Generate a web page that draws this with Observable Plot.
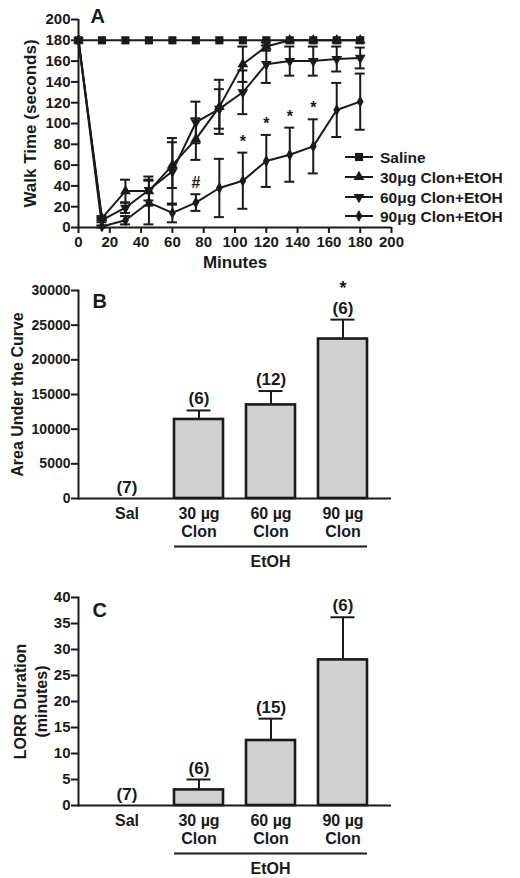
<!DOCTYPE html>
<html><head><meta charset="utf-8">
<script src="https://cdn.jsdelivr.net/npm/d3@7"></script>
<script src="https://cdn.jsdelivr.net/npm/@observablehq/plot@0.6"></script>
<style>
body{margin:0;background:#fff;}
#wrap{position:relative;width:520px;height:878px;overflow:hidden;}
.panel{position:absolute;left:0;width:520px;}
</style></head><body>
<div id="wrap">
<div class="panel" id="pa" style="top:0px"></div>
<div class="panel" id="pb" style="top:280px"></div>
<div class="panel" id="pc" style="top:580px"></div>
</div>
<script>
// ---------- DATA ----------
const times = [0, 15, 30, 45, 60, 75, 90, 105, 120, 135, 150, 165, 180];
const saline = [180, 180, 180, 180, 180, 180, 180, 180, 180, 180, 180, 180, 180];
const clon30 = [180, 9, 35, 35, 60, 85, 116, 157, 174, 180, 180, 180, 180];
const clon30Err = [0, 2, 11, 14, 22, 20, 26, 17, 4, 0, 0, 0, 0];
const clon60 = [180, 7, 19, 36, 54, 101, 114, 130, 157, 160, 160, 162, 163];
const clon60Err = [0, 2, 5, 10, 32, 20, 19, 21, 18, 14, 14, 12, 10];
const clon90 = [180, 1, 7, 24, 14, 24, 38, 45, 64, 70, 78, 113, 121];
const clon90Err = [0, 1, 4, 21, 9, 8, 28, 27, 25, 26, 26, 26, 27];
const sigMarks90 = ["", "", "", "", "", "#", "", "*", "*", "*", "*", "", ""];
const seriesNames = ["Saline", "30μg Clon+EtOH", "60μg Clon+EtOH", "90μg Clon+EtOH"];
const xTicksA = [0, 20, 40, 60, 80, 100, 120, 140, 160, 180, 200];
const yTicksA = [0, 20, 40, 60, 80, 100, 120, 140, 160, 180, 200];

const groups = ["Sal", "30 µg\nClon", "60 µg\nClon", "90 µg\nClon"];
const aucValues = [0, 11400, 13500, 23000];
const aucErr = [0, 1300, 2000, 2800];
const aucN = [7, 6, 12, 6];
const aucSig = ["", "", "", "*"];
const aucTicks = [0, 5000, 10000, 15000, 20000, 25000, 30000];

const lorrValues = [0, 3.0, 12.5, 28.0];
const lorrErr = [0, 2.0, 4.2, 8.2];
const lorrN = [7, 6, 15, 6];
const lorrTicks = [0, 5, 10, 15, 20, 25, 30, 35, 40];

// ---------- STYLE ----------
const FONT = '"Liberation Sans", Arial, Helvetica, sans-serif';
const INK = "#1a1a1a";
const baseStyle = {fontFamily: FONT, fontWeight: "bold", fontSize: "14px", color: INK, background: "transparent", overflow: "visible"};
const sqrt3 = Math.sqrt(3);
const symTriDown = {draw(ctx, size) {
  const y = -Math.sqrt(size / (sqrt3 * 3));
  ctx.moveTo(0, -y * 2); ctx.lineTo(-sqrt3 * y, y); ctx.lineTo(sqrt3 * y, y); ctx.closePath();
}};
const symbols = [d3.symbolSquare, d3.symbolTriangle, symTriDown, d3.symbolDiamond];
const symR = [4.6, 4.0, 4.0, 3.6];

// ---------- PANEL A ----------
const allVals = [saline, clon30, clon60, clon90];
const allErrs = [null, clon30Err, clon60Err, clon90Err];
const rowsA = [];
allVals.forEach((vals, si) => vals.forEach((v, i) => rowsA.push({series: seriesNames[si], si, t: times[i], v, e: allErrs[si] ? allErrs[si][i] : 0})));
const errRows = rowsA.filter(d => d.e > 0);
const sigRows = times.map((t, i) => ({t, y: clon90[i] + clon90Err[i], s: sigMarks90[i]})).filter(d => d.s);
const capHalf = 3.2;

const chartA = Plot.plot({
  width: 520, height: 280, marginLeft: 78, marginRight: 129, marginTop: 19, marginBottom: 53,
  style: baseStyle,
  x: {domain: [0, 200], label: null},
  y: {domain: [0, 200], label: null},
  marks: [
    Plot.axisX({ticks: xTicksA, tickSize: 6, tickPadding: 3, strokeWidth: 2, fontSize: 15, label: null}),
    Plot.axisY({ticks: yTicksA, tickSize: 7, tickPadding: 1, strokeWidth: 2, fontSize: 15, label: null}),
    Plot.ruleX(errRows, {x: "t", y1: d => d.v - d.e, y2: d => d.v + d.e, strokeWidth: 2, stroke: INK}),
    Plot.ruleY(errRows, {y: d => d.v - d.e, x1: d => d.t - capHalf, x2: d => d.t + capHalf, strokeWidth: 2, stroke: INK}),
    Plot.ruleY(errRows, {y: d => d.v + d.e, x1: d => d.t - capHalf, x2: d => d.t + capHalf, strokeWidth: 2, stroke: INK}),
    Plot.line(rowsA, {x: "t", y: "v", z: "series", strokeWidth: 2, stroke: INK}),
    ...[0, 1, 2, 3].map(si => Plot.dot(rowsA.filter(d => d.si === si), {x: "t", y: "v", symbol: symbols[si], r: symR[si], fill: INK, stroke: "none"})),
    Plot.ruleX([0], {strokeWidth: 2, stroke: INK}),
    Plot.ruleY([0], {strokeWidth: 2, stroke: INK}),
    Plot.text(sigRows, {x: "t", y: "y", text: "s", dy: -11, fontSize: 16}),
    Plot.text(["Walk Time (seconds)"], {frameAnchor: "left", textAnchor: "middle", rotate: -90, dx: -48, fontSize: 17}),
    Plot.text(["Minutes"], {frameAnchor: "bottom", dy: 40, fontSize: 17}),
    Plot.text(["A"], {frameAnchor: "top-left", textAnchor: "start", lineAnchor: "top", dx: 12, dy: -11, fontSize: 20})
  ]
});
// legend
{
  const svg = d3.select(chartA);
  const g = svg.append("g").attr("text-anchor", "start");
  const ys = [157, 177, 197, 216];
  seriesNames.forEach((name, i) => {
    g.append("line").attr("x1", 345).attr("x2", 373).attr("y1", ys[i]).attr("y2", ys[i]).attr("stroke", INK).attr("stroke-width", 2);
    g.append("path").attr("d", d3.symbol(symbols[i], Math.PI * symR[i] * symR[i])()).attr("transform", `translate(359,${ys[i]})`).attr("fill", INK);
    g.append("text").attr("x", 380).attr("y", ys[i]).attr("dy", "0.36em").attr("text-anchor", "start").attr("font-size", 15.5).attr("fill", INK).text(name);
  });
}
document.getElementById("pa").appendChild(chartA);

// ---------- BAR PANELS ----------
function barPanel({values, errs, ns, sig, ticks, yMax, height, marginTop, marginBottom, title, titleDx, letter, letterDy, tickFont}) {
  const rows = groups.map((g, i) => ({g, v: values[i], e: errs[i], n: ns[i], s: sig ? sig[i] : ""}));
  const er = rows.filter(d => d.e > 0);
  const chart = Plot.plot({
    width: 520, height, marginLeft: 78, marginRight: 129, marginTop, marginBottom,
    style: baseStyle,
    x: {domain: groups, padding: 0.32, label: null},
    y: {domain: [0, yMax], label: null},
    marks: [
      Plot.barY(rows, {x: "g", y: "v", fill: "#d0d0d0", stroke: INK, strokeWidth: 2.6}),
      Plot.ruleX(er, {x: "g", y1: "v", y2: d => d.v + d.e, strokeWidth: 2, stroke: INK}),
      Plot.tickY(er, {x: "g", y: d => d.v + d.e, strokeWidth: 2, stroke: INK, insetLeft: 12.5, insetRight: 12.5}),
      Plot.text(rows, {x: "g", y: d => d.v + d.e, text: d => `(${d.n})`, fontSize: 17, lineAnchor: "bottom", dy: -6}),
      Plot.text(rows.filter(d => d.s), {x: "g", y: d => d.v + d.e, text: "s", fontSize: 18, lineAnchor: "bottom", dy: -26}),
      Plot.axisY({ticks, tickSize: 7, tickPadding: 1, strokeWidth: 2, fontSize: tickFont, tickFormat: d => String(d), label: null}),
      Plot.axisX({tickSize: 0, tickPadding: 7, fontSize: 16, lineHeight: 1.15, label: null}),
      Plot.ruleY([0], {strokeWidth: 2, stroke: INK}),
      Plot.frame({anchor: "left", strokeWidth: 2, stroke: INK}),
      Plot.text([title], {frameAnchor: "left", textAnchor: "middle", rotate: -90, dx: titleDx, fontSize: 16, lineHeight: 1.3}),
      Plot.text([letter], {frameAnchor: "top-left", textAnchor: "start", lineAnchor: "top", dx: 14, dy: letterDy, fontSize: 20})
    ]
  });
  // EtOH bracket, positioned from the chart's own scales
  const sx = chart.scale("x"), sy = chart.scale("y");
  const x1 = sx.apply(groups[1]), x2 = sx.apply(groups[3]) + sx.bandwidth;
  const base = sy.apply(0);
  const svg = d3.select(chart);
  svg.append("line").attr("x1", x1).attr("x2", x2).attr("y1", base + 48.5).attr("y2", base + 48.5).attr("stroke", INK).attr("stroke-width", 2);
  svg.append("text").attr("x", sx.apply(groups[2]) + sx.bandwidth / 2).attr("y", base + 63).attr("dy", "0.36em").attr("text-anchor", "middle").attr("font-size", 16).attr("fill", INK).text("EtOH");
  return chart;
}

const chartB = barPanel({values: aucValues, errs: aucErr, ns: aucN, sig: aucSig, ticks: aucTicks, yMax: 30000,
  height: 290, marginTop: 10, marginBottom: 72, title: "Area Under the Curve", titleDx: -62, letter: "B", letterDy: 3, tickFont: 14});
document.getElementById("pb").appendChild(chartB);

const chartC = barPanel({values: lorrValues, errs: lorrErr, ns: lorrN, sig: null, ticks: lorrTicks, yMax: 40,
  height: 298, marginTop: 17, marginBottom: 73, title: "LORR Duration\n(minutes)", titleDx: -49, letter: "C", letterDy: 5, tickFont: 15});
document.getElementById("pc").appendChild(chartC);
</script>
</body></html>
